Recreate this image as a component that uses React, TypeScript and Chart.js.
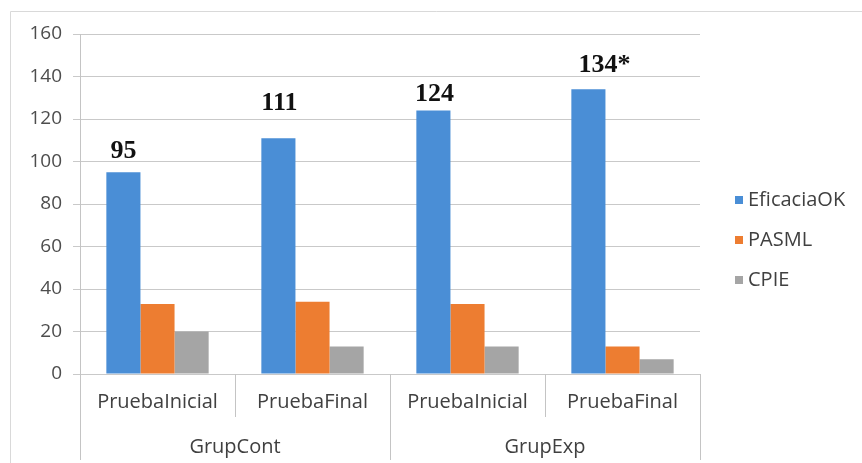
import { useEffect, useRef } from "react";
import { Chart, registerables } from "chart.js";

Chart.register(...registerables);

// Categories (two tests per group) and the groups they belong to
const categories = ["PruebaInicial", "PruebaFinal", "PruebaInicial", "PruebaFinal"];
const groups = ["GrupCont", "GrupExp"];
const categoriesPerGroup = 2;

// Series values
const seriesNames = ["EficaciaOK", "PASML", "CPIE"];
const eficaciaOK = [95, 111, 124, 134];
const pasml = [33, 34, 33, 13];
const cpie = [20, 13, 13, 7];

// Value axis
const yMin = 0;
const yMax = 160;
const yStep = 20;

// Value labels above the EficaciaOK bars
const labelSuffix = ["", "", "", "*"];
const labelRaise = [14, 28, 10, 17];
const labelShift = [0, 1, 1, 16];

const colors = ["#4a8ed6", "#ed7d31", "#a5a5a5"];
const W = 862;
const H = 463;
const SANS = "'Open Sans', 'DejaVu Sans', sans-serif";

const decorPlugin = {
  id: "decor",
  beforeDraw(chart: any) {
    const { ctx } = chart;
    ctx.save();
    ctx.strokeStyle = "#d9d9d9";
    ctx.lineWidth = 1;
    ctx.beginPath();
    ctx.moveTo(10.5, H);
    ctx.lineTo(10.5, 11.5);
    ctx.lineTo(W, 11.5);
    ctx.stroke();
    ctx.restore();
  },
  afterDraw(chart: any) {
    const { ctx, chartArea } = chart;
    const x = chart.scales.x;
    const bottom = chartArea.bottom;
    const n = categories.length;
    const half = (x.getPixelForValue(1) - x.getPixelForValue(0)) / 2;
    ctx.save();
    ctx.strokeStyle = "#c4c4c4";
    ctx.lineWidth = 1;
    // vertical axis line, reaching down through both label rows
    const left = Math.round(chartArea.left) + 0.5;
    ctx.beginPath();
    ctx.moveTo(left, chartArea.top);
    ctx.lineTo(left, H - 3);
    ctx.stroke();
    // category / group separators
    for (let i = 0; i < n; i++) {
      const bx = Math.round(x.getPixelForValue(i) + half) + 0.5;
      const isGroupEdge = (i + 1) % categoriesPerGroup === 0;
      ctx.beginPath();
      ctx.moveTo(bx, bottom);
      ctx.lineTo(bx, isGroupEdge ? H - 3 : bottom + 43);
      ctx.stroke();
    }
    // group labels
    ctx.fillStyle = "#404040";
    ctx.font = `20px ${SANS}`;
    ctx.textAlign = "center";
    ctx.textBaseline = "middle";
    groups.forEach((g, gi) => {
      const a = x.getPixelForValue(gi * categoriesPerGroup);
      const b = x.getPixelForValue(gi * categoriesPerGroup + categoriesPerGroup - 1);
      ctx.fillText(g, (a + b) / 2, bottom + 73);
    });
    // legend
    ctx.textAlign = "left";
    ctx.font = `20px ${SANS}`;
    seriesNames.forEach((name, i) => {
      const cy = 200 + i * 40;
      ctx.fillStyle = colors[i];
      ctx.fillRect(735, cy - 4, 8, 8);
      ctx.fillStyle = "#404040";
      ctx.fillText(name, 748, cy);
    });
    // value labels over the first series
    const meta = chart.getDatasetMeta(0);
    ctx.fillStyle = "#111111";
    ctx.font = "bold 26px 'Liberation Serif', serif";
    ctx.textAlign = "center";
    ctx.textBaseline = "alphabetic";
    meta.data.forEach((bar: any, i: number) => {
      const text = String(eficaciaOK[i]) + labelSuffix[i];
      ctx.fillText(text, bar.x + labelShift[i], bar.y - labelRaise[i]);
    });
    ctx.restore();
  },
};

export default function App() {
  const canvasRef = useRef<HTMLCanvasElement | null>(null);

  useEffect(() => {
    document.body.style.margin = "0";
    const canvas = canvasRef.current;
    if (!canvas) return;
    const chart = new Chart(canvas, {
      type: "bar",
      data: {
        labels: categories,
        datasets: [
          { label: seriesNames[0], data: eficaciaOK, backgroundColor: colors[0] },
          { label: seriesNames[1], data: pasml, backgroundColor: colors[1] },
          { label: seriesNames[2], data: cpie, backgroundColor: colors[2] },
        ],
      },
      options: {
        responsive: false,
        animation: false,
        devicePixelRatio: 1,
        layout: { padding: { left: 0, right: 162, top: 34, bottom: 0 } },
        datasets: {
          bar: { categoryPercentage: 0.66, barPercentage: 1.0 },
        },
        plugins: {
          legend: { display: false },
          tooltip: { enabled: false },
        },
        scales: {
          x: {
            grid: { display: false, drawTicks: false },
            border: { display: false },
            ticks: {
              color: "#404040",
              font: { family: SANS, size: 20 },
              padding: 16,
              maxRotation: 0,
              autoSkip: false,
            },
            afterFit: (s: any) => {
              s.height = H - 374;
            },
          },
          y: {
            min: yMin,
            max: yMax,
            ticks: {
              stepSize: yStep,
              color: "#4d4d4d",
              font: { family: SANS, size: 19 },
              padding: 11,
            },
            grid: { color: "#c9c9c9", tickLength: 7, drawTicks: true },
            border: { display: false },
            afterFit: (s: any) => {
              s.width = 80;
            },
          },
        },
      },
      plugins: [decorPlugin],
    });
    return () => chart.destroy();
  }, []);

  return <canvas ref={canvasRef} width={W} height={H} style={{ display: "block" }} />;
}
